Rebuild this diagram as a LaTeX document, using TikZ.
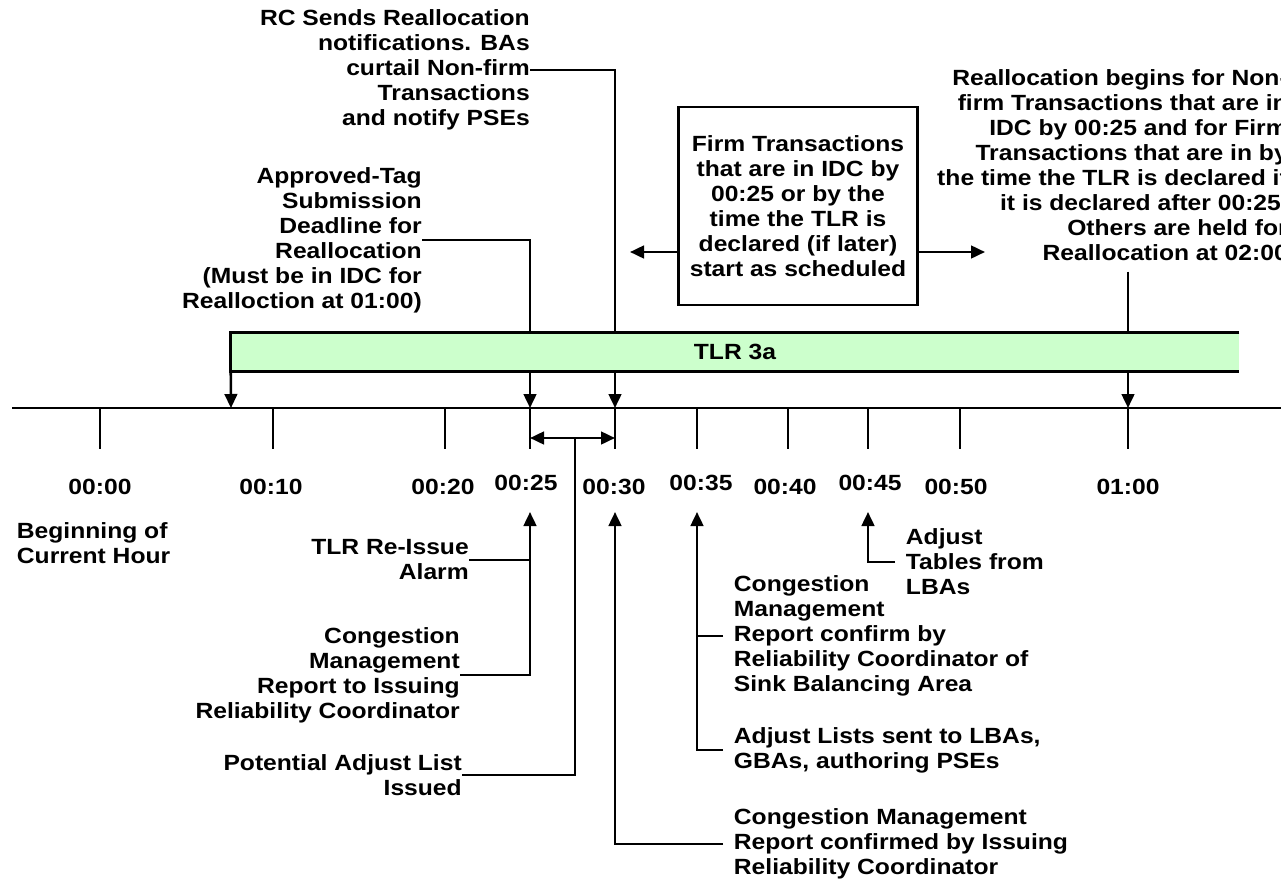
\documentclass[tikz,border=0pt]{standalone}
\usepackage{fontspec}
\setmainfont{Liberation Sans}[FakeStretch=1.12]
\usepackage{tikz}
\usetikzlibrary{arrows.meta,calc,positioning}
\definecolor{tlrgreen}{RGB}{204,255,204}

\begin{document}
\begin{tikzpicture}[x=0.75pt,y=-0.75pt,>={Triangle[length=10.5pt,width=9.5pt]},
  every node/.style={font=\fontsize{16.5pt}{18.75pt}\selectfont\bfseries,inner sep=0pt},
  lbl/.style={align=right,anchor=east},
  lbr/.style={align=left,anchor=west,inner xsep=8pt},
  ln/.style={line width=1.9pt}]
  \useasboundingbox (0,0) rectangle (1281,882);
  % time axis and ticks
  \draw[ln] (12,408) -- (1281,408);
  \foreach \x/\lx/\ly/\lab in {100/100/487/00:00,273/271/487/00:10,445/443/487/00:20,
      530/526/483/00:25,615/614/487/00:30,697/701/483/00:35,788/785/487/00:40,
      868/870/483/00:45,960/956/487/00:50,1128/1128/487/01:00}{
    \draw[ln] (\x,408) -- (\x,449);
    \node (lab\x) at (\lx,\ly) {\lab};
  }
  \coordinate (t0) at (231,408);
  \coordinate (t25) at (530,408);
  \coordinate (t30) at (615,408);
  \coordinate (t60) at (1128,408);
  \coordinate (u25) at (530,512);
  \coordinate (u30) at (615,512);
  \coordinate (u35) at (697,512);
  \coordinate (u45) at (868,512);
  \coordinate (d25) at (530,438);
  \coordinate (d30) at (615,438);
  \coordinate (dmid) at (575,438);
  \coordinate (fl) at (630,252);
  \coordinate (fr) at (985,252);

  % TLR bar
  \node[fill=tlrgreen,minimum width=756pt,minimum height=28.5pt] (bar) at (735,352) {TLR 3a};
  \draw[ln] (bar.north east) -- (bar.north west) -- (bar.south west) -- (bar.south east);
  \draw[ln,->] (bar.south west) -- (t0);

  % above the axis
  \node[lbl] (rcs) at (530,70) {RC Sends Reallocation\\notifications. BAs\\curtail Non-firm\\Transactions\\and notify PSEs};
  \node[lbl] (appr) at (422,240) {Approved-Tag\\Submission\\Deadline for\\Reallocation\\(Must be in IDC for\\Realloction at 01:00)};
  \node[draw,ln,align=center,minimum width=179pt,minimum height=148.5pt] (firm) at (798,206)
    {Firm Transactions\\that are in IDC by\\00:25 or by the\\time the TLR is\\declared (if later)\\start as scheduled};
  \node[lbl] (realloc) at (1288,165) {Reallocation begins for Non-\\firm Transactions that are in\\IDC by 00:25 and for Firm\\Transactions that are in by\\the time the TLR is declared if\\it is declared after 00:25.\\Others are held for\\Reallocation at 02:00};

  \draw[ln] (rcs.east) -| (bar.north -| t30);
  \draw[ln,->] (bar.south -| t30) -- (t30);
  \draw[ln] (appr.east) -| (bar.north -| t25);
  \draw[ln,->] (bar.south -| t25) -- (t25);
  \draw[ln] ([yshift=-8pt]realloc.south -| t60) -- (bar.north -| t60);
  \draw[ln,->] (bar.south -| t60) -- (t60);
  \draw[ln,->] (firm.west |- fl) -- (fl);
  \draw[ln,->] (firm.east |- fr) -- (fr);

  % below the axis
  \node[lbr] (begin) at (6,543) {Beginning of\\Current Hour};
  \node[lbl] (reissue) at (469,560) {TLR Re-Issue\\Alarm};
  \node[lbl] (cmrep) at (460,675) {Congestion\\Management\\Report to Issuing\\Reliability Coordinator};
  \node[lbl] (potl) at (462,775) {Potential Adjust List\\Issued};
  \node[lbr] (adjt) at (895,562) {Adjust\\Tables from\\LBAs};
  \node[lbr] (cmsink) at (723,636) {Congestion\\Management\\Report confirm by\\Reliability Coordinator of\\Sink Balancing Area};
  \node[lbr] (adjl) at (723,750) {Adjust Lists sent to LBAs,\\GBAs, authoring PSEs};
  \node[lbr] (cmconf) at (723,844) {Congestion Management\\Report confirmed by Issuing\\Reliability Coordinator};

  \draw[ln,<->] (d25) -- (d30);
  \draw[ln] (potl.east) -| (dmid);
  \draw[ln] (reissue.east) -- (reissue.east -| u25);
  \draw[ln,->] (cmrep.east) -| (u25);
  \draw[ln,->] (cmconf.west) -| (u30);
  \draw[ln] (cmsink.west) -- (cmsink.west -| u35);
  \draw[ln,->] (adjl.west) -| (u35);
  \draw[ln,->] (adjt.west) -| (u45);
\end{tikzpicture}
\end{document}
